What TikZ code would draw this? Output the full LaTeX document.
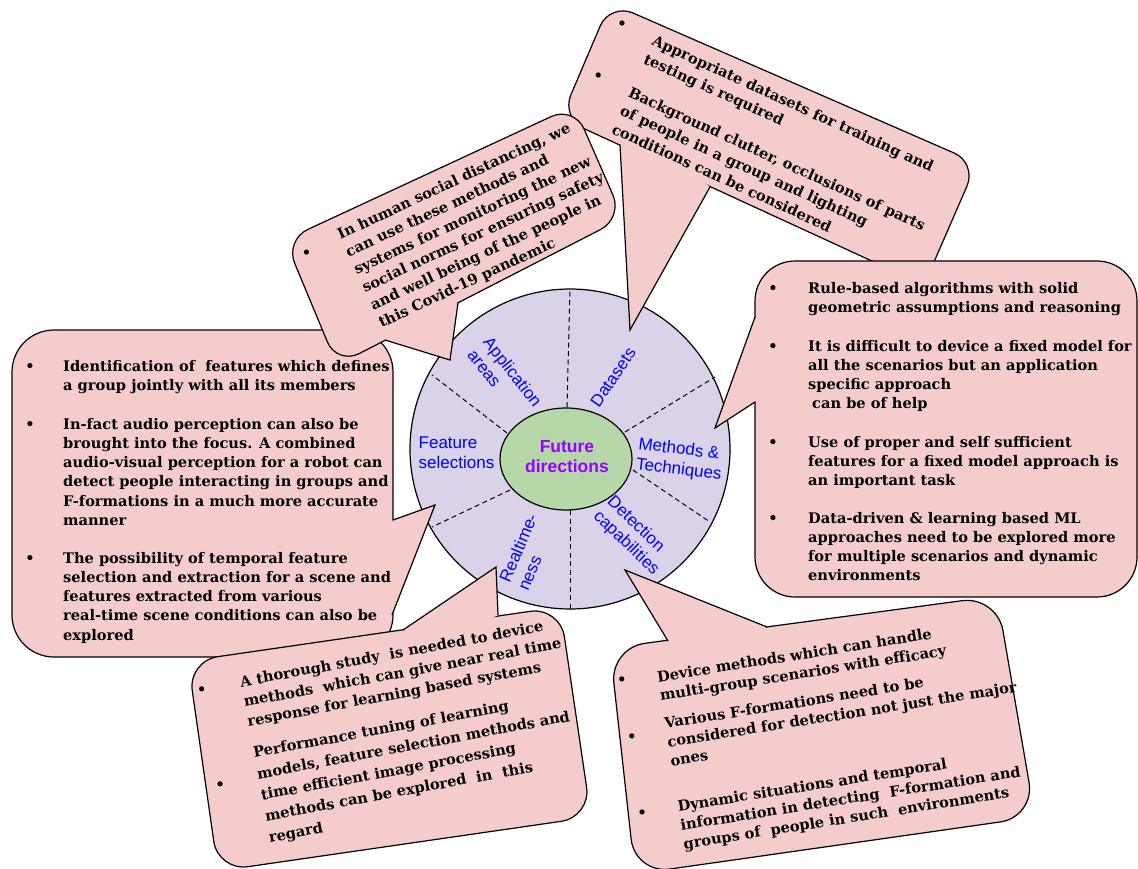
\documentclass[tikz,border=0pt]{standalone}
\usepackage{fontspec}
\setmainfont{DejaVu Serif}
\newfontfamily\arialfont{Liberation Sans}
\definecolor{cpink}{HTML}{F4CCCC}
\definecolor{clav}{HTML}{D9D2E9}
\definecolor{cgreen}{HTML}{B6D7A8}
\definecolor{cblue}{HTML}{0000FF}
\definecolor{cpurple}{HTML}{9900FF}
\newcommand{\csize}{14.6}
\begin{document}
\begin{tikzpicture}[x=1pt,y=-1pt,
  outline/.style={draw=black, line width=1.2pt},
  boxshape/.style={outline, fill=cpink, rounded corners=#1},
  tipfill/.style={fill=cpink},
  tipedge/.style={outline, line join=miter},
  para/.style={anchor=north west, inner sep=0pt, align=left, font=\bfseries\fontsize{\csize}{#1}\selectfont},
  dot/.style={anchor=base, inner sep=0pt, font=\bfseries\fontsize{\csize}{16}\selectfont},
  ring/.style={align=left, inner sep=0pt, text=cblue, font=\arialfont\fontsize{17}{20}\selectfont},
  spoke/.style={draw=black, line width=1pt, dash pattern=on 5pt off 3.5pt},
]
\useasboundingbox (0,0) rectangle (1138,869);
% ---- central wheel
\draw[outline, fill=clav] (570,449) circle[radius=160];
\draw[spoke] (567,407) -- (570,289);
\draw[spoke] (570,510) -- (570,609);
\draw[spoke] (507,433) -- (432,375);
\draw[spoke] (510,490) -- (432,527);
\draw[spoke] (625,432) -- (715,377);
\draw[spoke] (633,470) -- (710,522);
\draw[outline, fill=cgreen] (566,459) ellipse [x radius=66, y radius=51];
\node[font=\arialfont\bfseries\fontsize{17.5}{20}\selectfont, text=cpurple, align=center] (fd) at (567,457) {Future\\directions};

% ---- left callout (Feature selections)
\draw[boxshape=42] (12,330) -- (393,330) -- (393,657) -- (12,657) -- cycle;
\fill[tipfill] (393,520) -- (435,505) -- (392,615) -- (370,567) -- cycle;
\draw[tipedge] (393,520) -- (435,505) -- (392,615);
\node[dot] (lb1) at (30,371) {•};
\node[dot] (lb2) at (30,429) {•};
\node[dot] (lb3) at (30,563) {•};
\node[para=19.2] (lt1) at (63,357.6) {\strut Identification of~ features which defines\\a group jointly with all its members};
\node[para=19.2] (lt2) at (63,415.6) {\strut In-fact audio perception can also be\\brought into the focus. A combined\\audio-visual perception for a robot can\\detect people interacting in groups and\\F-formations in a much more accurate\\manner};
\node[para=19.2] (lt3) at (63,549.6) {\strut The possibility of temporal feature\\selection and extraction for a scene and\\features extracted from various\\real-time scene conditions can also be\\explored};

% ---- top-right callout (Datasets)
\draw[boxshape=25] (610,3) -- (977,163) -- (924,285) -- (561,118) -- cycle;
\fill[tipfill] (710,187) -- (630,330) -- (620,145) -- (665,150) -- cycle;
\draw[tipedge] (710,187) -- (630,330) -- (620,145);
\begin{scope}[shift={(653,40)}, rotate=-24.5, every node/.append style={transform shape}]
  \node[dot] (db1) at (-35,3.3) {•};
  \node[dot] (db2) at (-35,60.6) {•};
  \node[para=20] (dt1) at (0,-9) {\strut Appropriate datasets for training and\\testing is required};
  \node[para=20] (dt2) at (0,48) {\strut Background clutter, occlusions of parts\\of people in a group and lighting\\conditions can be considered};
\end{scope}

% ---- top-middle callout (Application areas)
\draw[boxshape=25] (285,240) -- (574,106) -- (623,218) -- (337,365) -- cycle;
\fill[tipfill] (458,303) -- (450,360) -- (385,340) -- (420,300) -- cycle;
\draw[tipedge] (458,303) -- (450,360) -- (385,340);
\begin{scope}[shift={(338,235)}, rotate=25, every node/.append style={transform shape}]
  \node[dot] (ab1) at (-36,8) {•};
  \node[para=19.5] (at1) at (0,-8.65) {\strut In human social distancing, we\\can use these methods and\\systems for monitoring the new\\social norms for ensuring safety\\and well being of the people in\\this Covid-19 pandemic};
\end{scope}

% ---- right callout (Methods & Techniques)
\draw[boxshape=40] (755,261) -- (1137,261) -- (1137,597) -- (755,597) -- cycle;
\fill[tipfill] (755,317) -- (715,428) -- (755,402) -- (780,360) -- cycle;
\draw[tipedge] (755,317) -- (715,428) -- (755,402);
\node[dot] (mb1) at (773,293) {•};
\node[dot] (mb2) at (773,351) {•};
\node[dot] (mb3) at (773,447) {•};
\node[dot] (mb4) at (773,523) {•};
\node[para=19.2] (mt1) at (808,279.6) {\strut Rule-based algorithms with solid\\geometric assumptions and reasoning};
\node[para=19.2] (mt2) at (808,337.6) {\strut It is difficult to device a fixed model for\\all the scenarios but an application\\specific approach\\\hspace{4pt}can be of help};
\node[para=19.2] (mt3) at (808,433.6) {\strut Use of proper and self sufficient\\features for a fixed model approach is\\an important task};
\node[para=19.2] (mt4) at (808,509.6) {\strut Data-driven \& learning based ML\\approaches need to be explored more\\for multiple scenarios and dynamic\\environments};

% ---- bottom-left callout (Realtime-ness)
\draw[boxshape=30] (188,661) -- (560,607) -- (591,817) -- (218,871) -- cycle;
\fill[tipfill] (403,630) -- (496,567) -- (498,615) -- (450,640) -- cycle;
\draw[tipedge] (403,630) -- (496,567) -- (498,615);
\begin{scope}[shift={(240,682)}, rotate=10.5, every node/.append style={transform shape}]
  \node[dot] (rb1) at (-39,6) {•};
  \node[dot] (rb2) at (-38,102) {•};
  \node[para=20] (rt1) at (0,-9) {\strut A thorough study~ is needed to device\\methods~ which can give near real time\\response for learning based systems};
  \node[para=21.5] (rt2) at (0,62) {\strut Performance tuning of learning\\models, feature selection methods and\\time efficient image processing\\methods can be explored~ in~ this\\regard};
\end{scope}

% ---- bottom-right callout (Detection capabilities)
\draw[boxshape=35] (610,648) -- (997,596) -- (1035,817) -- (635,874) -- cycle;
\fill[tipfill] (668,641) -- (625,570) -- (767,627) -- (715,650) -- cycle;
\draw[tipedge] (668,641) -- (625,570) -- (767,627);
\begin{scope}[shift={(657,677)}, rotate=9, every node/.append style={transform shape}]
  \node[dot] (cb1) at (-35,2.5) {•};
  \node[dot] (cb2) at (-34,60) {•};
  \node[dot] (cb3) at (-36,137) {•};
  \node[para=19] (ct1) at (0,-8.3) {\strut Device methods which can handle\\multi-group scenarios with efficacy};
  \node[para=19] (ct2) at (0,38.7) {\strut Various F-formations need to be\\considered for detection not just the major\\ones};
  \node[para=19] (ct3) at (0,122.7) {\strut Dynamic situations and temporal\\information in detecting~ F-formation and\\groups of~ people in such~ environments};
\end{scope}

% ---- ring labels
\node[ring, rotate=-52] (lapp) at (505,378) {Application\\areas};
\node[ring, rotate=56] (lds) at (613,377) {Datasets};
\node[ring, rotate=-7] (lmt) at (680,460) {Methods \&\\Techniques};
\node[ring] (lfs) at (456.5,453) {Feature\\selections};
\node[ring, rotate=-44] (ldc) at (633,536) {Detection\\capabilities};
\node[ring, rotate=67] (lrt) at (527.5,552) {Realtime-\\ness};
\end{tikzpicture}
\end{document}
